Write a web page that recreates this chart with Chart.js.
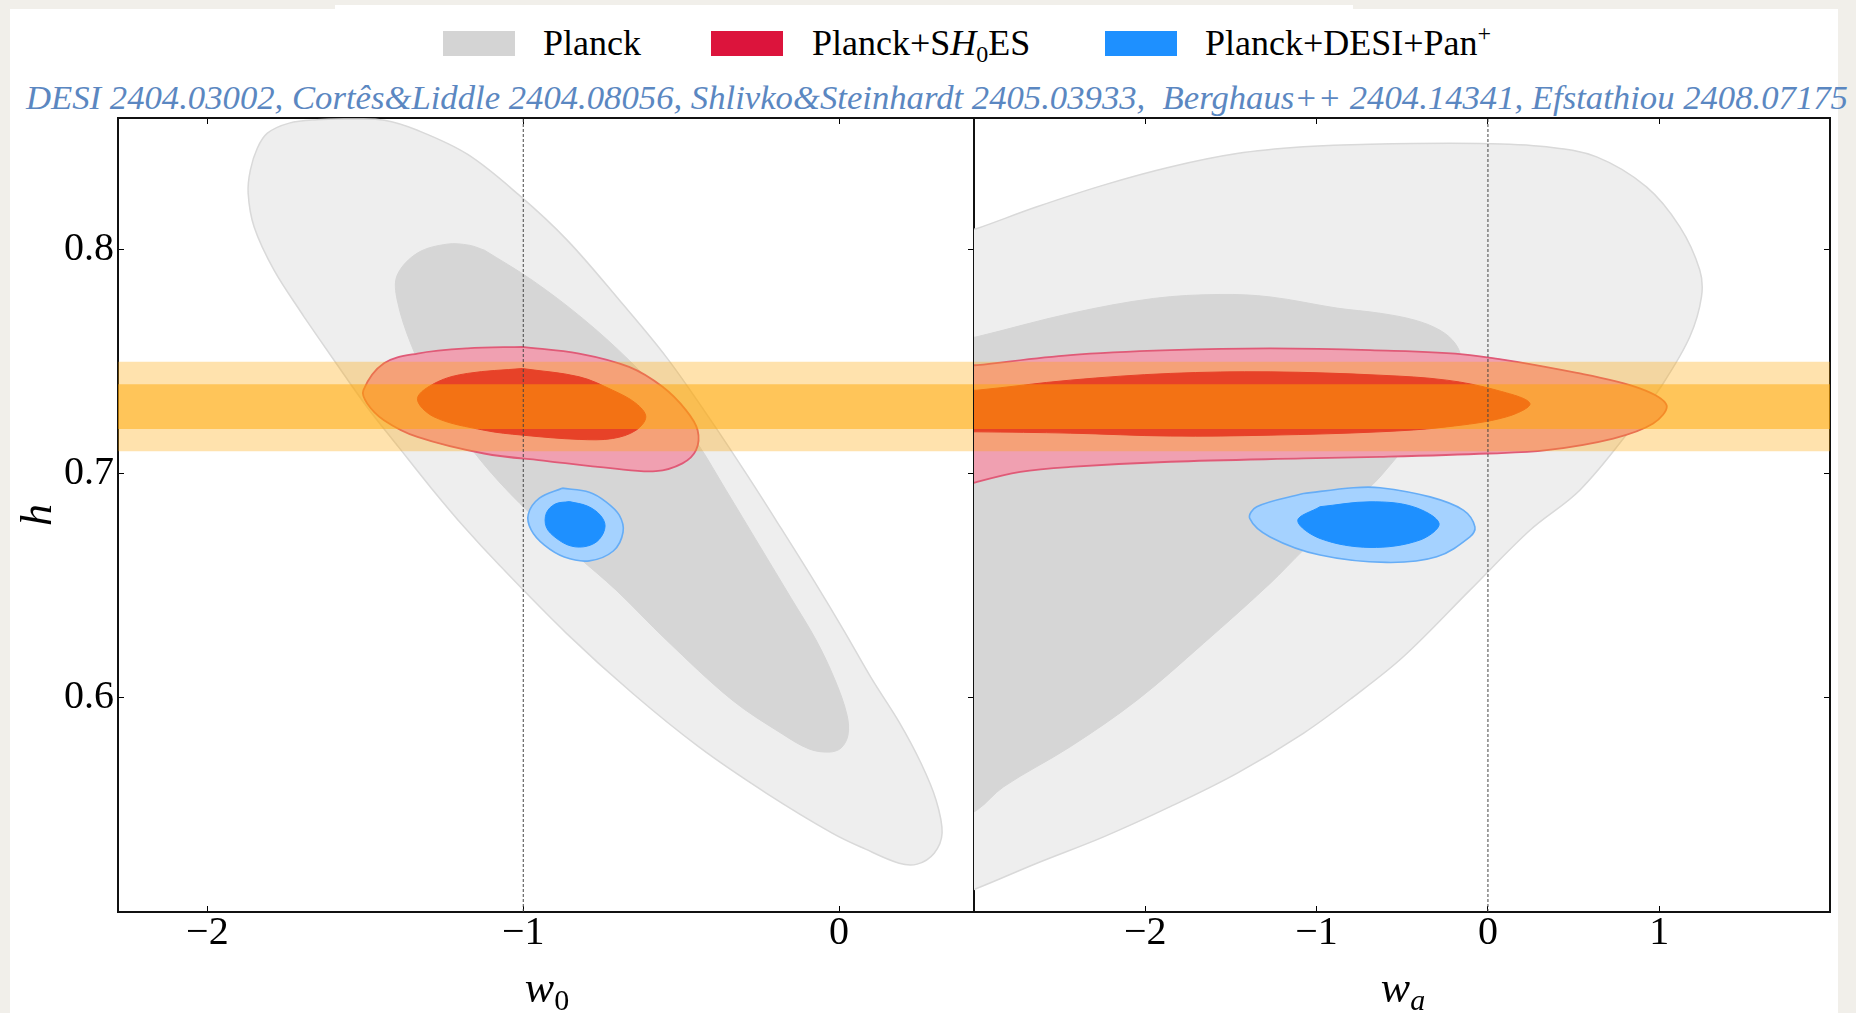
<!DOCTYPE html>
<html>
<head>
<meta charset="utf-8">
<script src="https://cdn.jsdelivr.net/npm/chart.js@4.4.1/dist/chart.umd.min.js"></script>
<style>
  body { margin: 0; width: 1856px; height: 1013px; background: #f1efea; position: relative; overflow: hidden;
         font-family: "Liberation Serif", "DejaVu Serif", serif; color: #000; }
  .sheet { position: absolute; left: 10px; top: 9px; width: 1828px; height: 1004px; background: #fff; }
  .tab { position: absolute; left: 335px; top: 5px; width: 1018px; height: 6px; background: #fff; }
  .key { position: absolute; top: 31px; width: 72px; height: 25px; }
  .lab { position: absolute; top: 25px; font-size: 36px; line-height: 1; white-space: nowrap; }
  .sub { font-size: 24px; position: relative; top: 7px; }
  .sup { font-size: 24px; position: relative; top: -14px; }
  #cite { position: absolute; left: 26px; top: 81px; font-size: 35px; line-height: 1; font-style: italic;
          color: #5b87c1; white-space: pre; }
  .axt { position: absolute; font-size: 44px; line-height: 1; white-space: nowrap; transform: translateX(-50%); }
  .axt .s { font-size: 30px; position: relative; top: 8px; }
  canvas { position: absolute; }
</style>
</head>
<body>
<div class="sheet"></div>
<div class="tab"></div>

<div class="key" style="left:443px;background:#d4d4d4"></div>
<div class="lab" style="left:543px">Planck</div>
<div class="key" style="left:711px;background:#dc143c"></div>
<div class="lab" style="left:812px">Planck+S<i>H</i><span class="sub">0</span>ES</div>
<div class="key" style="left:1105px;background:#1e90ff"></div>
<div class="lab" style="left:1205px">Planck+DESI+Pan<span class="sup">+</span></div>

<div id="cite">DESI 2404.03002, Cortês&amp;Liddle 2404.08056, Shlivko&amp;Steinhardt 2405.03933,  Berghaus++ 2404.14341, Efstathiou 2408.07175</div>

<canvas id="left" width="980" height="900" style="left:0px;top:100px"></canvas>
<canvas id="right" width="870" height="900" style="left:968px;top:100px"></canvas>

<div class="axt" style="left:37px;top:515px;transform:translate(-50%,-50%) rotate(-90deg);font-style:italic">h</div>
<div class="axt" style="left:547px;top:966px"><i>w</i><span class="s">0</span></div>
<div class="axt" style="left:1403px;top:966px"><i>w</i><span class="s"><i>a</i></span></div>

<script>
// axis ranges
const w0Range = [-2.283, 0.427];
const waRange = [-2.999, 1.996];
const hRange = [0.504, 0.859];

const hTicks = [0.6, 0.7, 0.8];
const w0Ticks = [-2, -1, 0];
const waTicks = [-2, -1, 0, 1];

// cosmological constant reference lines
const w0Ref = -1;
const waRef = 0;

// SH0ES h bands (1 and 2 sigma)
const sh0esInner = [0.72, 0.74];
const sh0esOuter = [0.71, 0.75];

// ---- w0 - h contours, [w0, h]
const w0PlanckOuter = [[-1.694,0.7701],[-1.789,0.7910],[-1.852,0.8103],[-1.871,0.8254],[-1.864,0.8357],[-1.842,0.8455],
  [-1.810,0.8522],[-1.741,0.8567],[-1.652,0.8582],[-1.551,0.8585],[-1.440,0.858],[-1.335,0.8535],[-1.177,0.8428],
  [-1.013,0.8245],[-0.861,0.8044],[-0.696,0.7776],[-0.547,0.7521],[-0.411,0.7248],[-0.291,0.6993],[-0.184,0.6756],
  [-0.079,0.6519],[0.016,0.6296],[0.104,0.6081],[0.190,0.5889],[0.259,0.5706],[0.307,0.5540],[0.326,0.5393],
  [0.301,0.5303],[0.247,0.5254],[0.190,0.5258],[0.082,0.5322],[-0.022,0.5393],[-0.231,0.5572],[-0.443,0.5777],
  [-0.655,0.6019],[-0.864,0.6287],[-1.076,0.6591],[-1.187,0.6761],[-1.291,0.6935],[-1.392,0.7114],[-1.494,0.7297],
  [-1.599,0.7507],[-1.694,0.7701]];
const w0PlanckInner = [[-1.123,0.7999],[-0.972,0.7865],[-0.813,0.7695],[-0.665,0.7507],[-0.554,0.7338],[-0.449,0.7137],
  [-0.358,0.6926],[-0.253,0.6680],[-0.152,0.6443],[-0.073,0.6256],[-0.013,0.6077],[0.025,0.5920],[0.028,0.5831],
  [0.006,0.5773],[-0.032,0.5755],[-0.095,0.5769],[-0.180,0.5836],[-0.339,0.5988],[-0.547,0.6256],[-0.706,0.6479],
  [-0.829,0.6631],[-0.949,0.6783],[-1.073,0.6958],[-1.177,0.7136],[-1.282,0.7360],[-1.354,0.7574],[-1.399,0.7776],
  [-1.399,0.7887],[-1.335,0.7986],[-1.241,0.8026],[-1.171,0.8021],[-1.123,0.7999]];
const w0ShoesOuter = [[-1.002,0.7567],[-0.823,0.7537],[-0.665,0.7477],[-0.559,0.7388],[-0.485,0.7284],[-0.448,0.7194],
  [-0.453,0.7105],[-0.496,0.7046],[-0.580,0.7011],[-0.717,0.7023],[-0.924,0.7056],[-1.124,0.709],[-1.335,0.7164],
  [-1.441,0.7239],[-1.494,0.7314],[-1.506,0.7373],[-1.441,0.7493],[-1.335,0.7537],[-1.177,0.756],[-1.002,0.7567]];
const w0ShoesInner = [[-1.003,0.747],[-0.823,0.7433],[-0.717,0.7373],[-0.643,0.7314],[-0.612,0.7254],[-0.643,0.7194],
  [-0.717,0.7157],[-0.823,0.7153],[-1.002,0.7172],[-1.124,0.7194],[-1.283,0.7254],[-1.335,0.7336],[-1.272,0.741],
  [-1.177,0.7448],[-1.003,0.747]];
const w0DesiOuter = [[-0.877,0.6935],[-0.791,0.6917],[-0.737,0.6873],[-0.696,0.6814],[-0.684,0.6739],[-0.715,0.6654],
  [-0.791,0.6610],[-0.870,0.6627],[-0.934,0.6681],[-0.975,0.6748],[-0.984,0.6819],[-0.949,0.6890],[-0.877,0.6935]];
const w0DesiInner = [[-0.854,0.6875],[-0.797,0.6855],[-0.756,0.6814],[-0.741,0.6765],[-0.759,0.6707],[-0.797,0.6676],
  [-0.848,0.6676],[-0.896,0.6712],[-0.927,0.6761],[-0.927,0.6823],[-0.899,0.6864],[-0.854,0.6875]];

// ---- wa - h contours, [wa, h]
const waPlanckOuter = [[-3.15,0.510],[-3.15,0.8055],[-2.981,0.8096],[-2.632,0.8193],[-2.243,0.829],[-1.854,0.8371],
  [-1.465,0.8431],[-1.077,0.8461],[-0.688,0.8473],[-0.047,0.8476],[0.342,0.8461],[0.634,0.8416],[0.925,0.8282],
  [1.120,0.8103],[1.236,0.791],[1.246,0.779],[1.178,0.7612],[1.022,0.7403],[0.828,0.7194],[0.536,0.6926],
  [0.245,0.6747],[-0.105,0.6479],[-0.494,0.6181],[-0.785,0.6002],[-1.077,0.5839],[-1.465,0.566],[-1.854,0.5511],
  [-2.243,0.5376],[-2.632,0.5258],[-2.981,0.5146],[-3.15,0.510]];
const waPlanckInner = [[-3.15,0.543],[-3.15,0.7585],[-2.981,0.7612],[-2.437,0.7716],[-1.952,0.7783],[-1.563,0.7801],
  [-1.271,0.779],[-0.880,0.774],[-0.630,0.7717],[-0.426,0.7686],[-0.280,0.7641],[-0.192,0.7583],[-0.157,0.7516],
  [-0.175,0.7440],[-0.233,0.7351],[-0.367,0.7217],[-0.531,0.7074],[-0.630,0.6985],[-0.688,0.6940],[-1.077,0.6658],
  [-1.271,0.6509],[-1.660,0.6241],[-2.048,0.5987],[-2.437,0.5779],[-2.826,0.56],[-2.981,0.5496],[-3.15,0.543]];
const waShoesOuter = [[-3.15,0.692],[-3.15,0.7472],[-2.981,0.7485],[-2.437,0.753],[-1.854,0.7552],[-1.271,0.756],
  [-0.688,0.7552],[-0.105,0.753],[0.536,0.7448],[0.886,0.7381],[1.042,0.7306],[0.964,0.7224],[0.731,0.7157],
  [0.342,0.7105],[0.002,0.709],[-0.630,0.7075],[-1.077,0.7068],[-1.854,0.7053],[-2.437,0.703],[-2.729,0.7008],
  [-2.981,0.6963],[-3.15,0.692]];
const waShoesInner = [[-3.15,0.7187],[-3.15,0.7366],[-2.981,0.7373],[-2.437,0.7418],[-1.854,0.7448],[-1.271,0.7455],
  [-0.630,0.744],[-0.241,0.7418],[0.051,0.7373],[0.245,0.7314],[0.109,0.7254],[-0.241,0.7209],[-0.630,0.7187],
  [-1.271,0.7172],[-1.854,0.7168],[-2.437,0.7181],[-2.981,0.7187],[-3.15,0.7187]];
const waDesiOuter = [[-1.077,0.6911],[-0.785,0.6937],[-0.630,0.6937],[-0.338,0.6896],[-0.144,0.6837],[-0.076,0.6762],
  [-0.105,0.6717],[-0.299,0.6628],[-0.591,0.6603],[-0.980,0.6636],[-1.271,0.6717],[-1.39,0.680],[-1.349,0.6852],
  [-1.077,0.6911]];
const waDesiInner = [[-0.980,0.6852],[-0.688,0.6874],[-0.436,0.6852],[-0.285,0.6777],[-0.397,0.6703],[-0.688,0.667],
  [-0.980,0.671],[-1.11,0.679],[-0.980,0.6852]];

// fit the reference line to its width in the original
const cite = document.getElementById('cite');
const citeSize = 35 * 1823 / cite.getBoundingClientRect().width;
cite.style.fontSize = citeSize + 'px';
cite.style.top = (110 - 0.8375 * citeSize) + 'px';

const serif = "'Liberation Serif', 'DejaVu Serif', serif";
const minus = v => (v < 0 ? '\u2212' + (-v) : String(v));

function region(pts, fill, line, width, tension) {
  return {
    data: pts.map(p => ({ x: p[0], y: p[1] })),
    showLine: true, fill: 'shape', tension: tension === undefined ? 0.35 : tension,
    backgroundColor: fill, borderColor: line, borderWidth: width,
    pointRadius: 0, pointHoverRadius: 0
  };
}

function band(range, xr, color) {
  const a = xr[0] - 1, b = xr[1] + 1;
  return region([[a, range[0]], [b, range[0]], [b, range[1]], [a, range[1]], [a, range[0]]],
    color, 'rgba(0,0,0,0)', 1, 0);
}

function fixedTicks(list) {
  return axis => { axis.ticks = list.map(v => ({ value: v })); };
}

function makeAxis(pos, range, list, size, labels, fmt) {
  return {
    type: 'linear', position: pos, min: range[0], max: range[1],
    afterBuildTicks: fixedTicks(list),
    afterFit: axis => {
      if (pos === 'top' || pos === 'bottom') axis.height = size; else axis.width = size;
      axis.paddingTop = axis.paddingBottom = axis.paddingLeft = axis.paddingRight = 0;
    },
    grid: { display: true, drawOnChartArea: false, drawTicks: true, tickLength: -6, tickColor: '#000', tickWidth: 1 },
    border: { display: true, color: '#111', width: 2 },
    ticks: { display: labels, font: { family: serif, size: 40 }, color: '#000',
             padding: pos === 'left' ? 10 : 3, autoSkip: false, maxRotation: 0, callback: fmt }
  };
}

function panel(id, xr, xTicks, xRef, c, leftW, rightW, yLabels) {
  const layers = [
    region(c[0], '#eeeeee', '#d9d9d9', 1.5),
    region(c[1], '#d6d6d6', '#d6d6d6', 1),
    region(c[2], '#f0a0b1', '#e05a77', 1.8),
    region(c[3], '#dc143c', '#dc143c', 1),
    region(c[4], '#a5d2ff', '#66adf6', 1.6),
    region(c[5], '#1e90ff', '#1e90ff', 1),
    band(sh0esOuter, xr, 'rgba(255,165,0,0.32)'),
    band(sh0esInner, xr, 'rgba(255,165,0,0.49)'),
    { data: [{ x: xRef, y: hRange[0] }, { x: xRef, y: hRange[1] }], showLine: true, fill: false,
      borderColor: '#444', borderWidth: 1, borderDash: [3, 2], pointRadius: 0 }
  ];
  // first layer at the bottom
  layers.forEach((d, i) => { d.order = layers.length - i; });

  return new Chart(document.getElementById(id), {
    type: 'scatter',
    data: { datasets: layers },
    options: {
      responsive: false, maintainAspectRatio: false, animation: false, devicePixelRatio: 1, events: [],
      layout: { padding: 0, autoPadding: false },
      elements: { line: { capBezierPoints: false } },
      plugins: { legend: { display: false }, tooltip: { enabled: false } },
      scales: {
        x: makeAxis('bottom', xr, xTicks, 88, true, minus),
        xTop: makeAxis('top', xr, xTicks, 18, false, minus),
        y: makeAxis('left', hRange, hTicks, leftW, yLabels, v => v.toFixed(1)),
        yRight: makeAxis('right', hRange, hTicks, rightW, false, v => v.toFixed(1))
      }
    }
  });
}

panel('left', w0Range, w0Ticks, w0Ref,
  [w0PlanckOuter, w0PlanckInner, w0ShoesOuter, w0ShoesInner, w0DesiOuter, w0DesiInner], 118, 6, true);
panel('right', waRange, waTicks, waRef,
  [waPlanckOuter, waPlanckInner, waShoesOuter, waShoesInner, waDesiOuter, waDesiInner], 6, 8, false);
</script>
</body>
</html>
